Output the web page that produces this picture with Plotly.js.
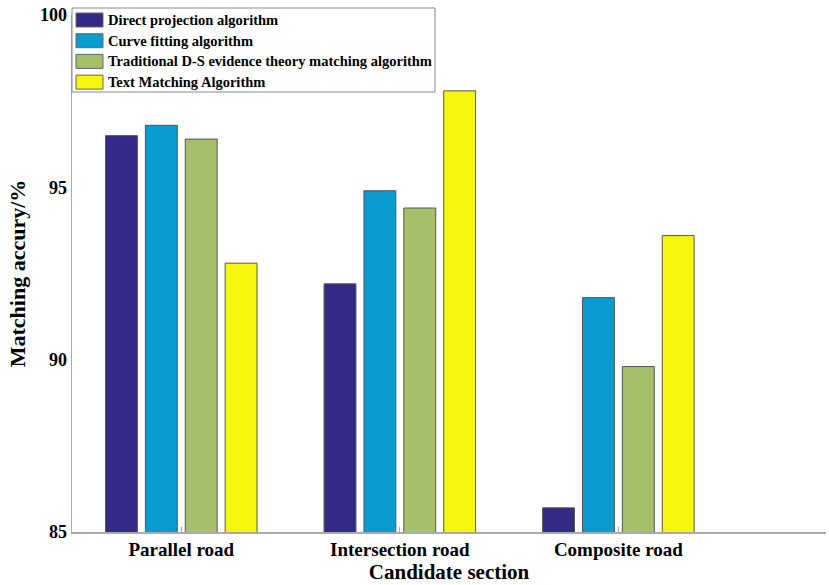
<!DOCTYPE html>
<html><head><meta charset="utf-8">
<script src="https://cdn.plot.ly/plotly-3.0.1.min.js"></script>
<style>body{margin:0;background:#fff}#c{width:829px;height:585px}</style>
</head><body><div id="c"></div>
<script>
const categories = ["Parallel road", "Intersection road", "Composite road"];
const seriesNames = ["Direct projection algorithm", "Curve fitting algorithm", "Traditional D-S evidence theory matching algorithm", "Text Matching Algorithm"];
const directProjection = [96.5, 92.2, 85.7];
const curveFitting = [96.8, 94.9, 91.8];
const traditionalDS = [96.4, 94.4, 89.8];
const textMatching = [92.8, 97.8, 93.6];
const yTicks = [85, 90, 95, 100];

const colors = ["#332a85", "#0a9bd0", "#a5bf6a", "#f5f50e"];
const values = [directProjection, curveFitting, traditionalDS, textMatching];
const font = "'Liberation Serif', 'Times New Roman', serif";

const traces = values.map((v, i) => ({
  type: "bar", x: categories, y: v, name: seriesNames[i],
  marker: {color: colors[i], line: {color: "#555", width: 1}}
}));

// plot area in pixels: left 72, right 826, top 15, bottom 532
const PL = 72, PW = 754, PT = 15, PH = 517;
const px = p => (p - PL) / PW;
const py = p => (PT + PH - p) / PH;

const shapes = [{type: "rect", xref: "paper", yref: "paper", x0: px(72), x1: px(435), y0: py(92), y1: py(8),
  line: {color: "#888", width: 1}, fillcolor: "#fff", layer: "above"}];
const annotations = [];
seriesNames.forEach((n, i) => {
  const top = 13 + i * 20.7;
  shapes.push({type: "rect", xref: "paper", yref: "paper", x0: px(76), x1: px(103), y0: py(top + 14), y1: py(top),
    line: {color: "#666", width: 1}, fillcolor: colors[i], layer: "above"});
  annotations.push({xref: "paper", yref: "paper", x: px(106), y: py(top + 7), xanchor: "left", yanchor: "middle",
    text: "<b>" + n + "</b>", showarrow: false, font: {family: font, size: 14.5, color: "#000"}});
});

const layout = {
  width: 829, height: 585,
  margin: {l: 72, r: 3, t: 15, b: 53},
  paper_bgcolor: "#fff", plot_bgcolor: "#fff",
  barmode: "group", bargap: 0.27, bargroupgap: 0.2,
  showlegend: false,
  shapes: shapes, annotations: annotations,
  xaxis: {type: "category", range: [-0.5, 2.95], showline: true, linecolor: "#aaa", linewidth: 1.5,
    ticks: "inside", ticklen: 5, tickcolor: "#aaa", showgrid: false, zeroline: false,
    tickfont: {family: font, size: 19, color: "#000", weight: "bold"},
    title: {text: "<b>Candidate section</b>", font: {family: font, size: 21, color: "#000"}, standoff: 4}},
  yaxis: {range: [85, 100], tickvals: yTicks, ticktext: yTicks.map(String), showline: true, linecolor: "#aaa", linewidth: 1.5,
    ticks: "", showgrid: false, zeroline: false,
    tickfont: {family: font, size: 18, color: "#000", weight: "bold"},
    title: {text: "<b>Matching accury/%</b>", font: {family: font, size: 22, color: "#000"}, standoff: 8}}
};
Plotly.newPlot("c", traces, layout, {displayModeBar: false, staticPlot: true});
</script></body></html>
